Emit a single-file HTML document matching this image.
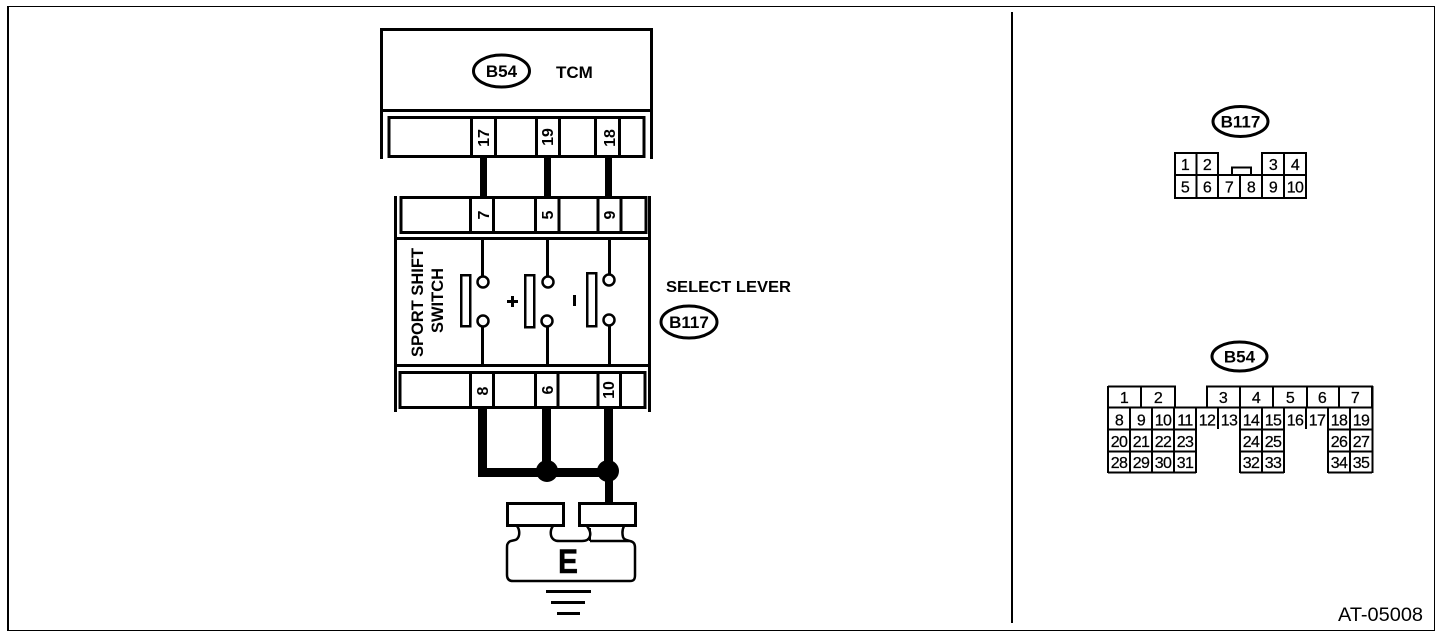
<!DOCTYPE html>
<html><head><meta charset="utf-8"><style>
html,body{margin:0;padding:0;background:#fff;width:1456px;height:636px;overflow:hidden}
svg{display:block}
text{font-family:"Liberation Sans",sans-serif;fill:#000}
.b{font-weight:bold}
.m{text-anchor:middle}
.n{font-size:16px;text-anchor:middle;stroke:#000;stroke-width:.25;letter-spacing:-.6px}
.r{font-size:16px;font-weight:bold;text-anchor:middle}
.l{fill:none;stroke:#000;stroke-width:3}
.t{fill:none;stroke:#000;stroke-width:2}
</style></head><body>
<svg width="1456" height="636" viewBox="0 0 1456 636" xmlns="http://www.w3.org/2000/svg">
<g shape-rendering="crispEdges">
<rect x="7" y="6" width="2" height="625"/><rect x="7" y="6" width="1428" height="1"/>
<rect x="1434" y="6" width="1" height="625"/><rect x="7" y="630" width="1428" height="1"/>
<rect x="1011" y="12" width="2" height="611"/>
<!-- TCM box -->
<path class="l" d="M381.500 159V29.500H651.500V159M381.500 110.500H651.500"/>
<rect class="l" x="389" y="117.500" width="255" height="39"/>
<path class="l" d="M471.500 117V157M495.500 117V157M536.500 117V157M559.500 117V157M595.500 117V157M619.500 117V157"/>
<!-- wires top -->
<rect x="480" y="158" width="7" height="39"/><rect x="544" y="158" width="7" height="39"/><rect x="605" y="158" width="7" height="39"/>
<!-- switch box -->
<path class="l" d="M395.500 196V412M649.500 196V412M395.500 238.500H649.500M395.500 365.500H649.500"/>
<rect class="l" x="401" y="197.500" width="245" height="35"/>
<path class="l" d="M470.500 197V233M493.500 197V233M535.500 197V233M559 197V233M598 197V233M621 197V233"/>
<rect class="l" x="400" y="372.500" width="245" height="35"/>
<path class="l" d="M470.500 372V408M493.500 372V408M535.500 372V408M558 372V408M598 372V408M620.500 372V408"/>
<!-- switch leads -->
<rect x="481" y="239" width="3" height="37"/><rect x="481" y="327" width="3" height="38"/>
<rect x="546" y="239" width="3" height="37"/><rect x="546" y="327" width="3" height="38"/>
<rect x="608" y="239" width="3" height="35"/><rect x="608" y="326" width="3" height="39"/>
<rect x="461" y="275" width="9" height="51" fill="none" stroke="#000" stroke-width="2.500"/>
<rect x="525" y="275" width="9" height="52" fill="none" stroke="#000" stroke-width="2.500"/>
<rect x="587" y="273" width="9" height="53" fill="none" stroke="#000" stroke-width="2.500"/>
<!-- plus/minus -->
<rect x="507" y="300" width="11" height="3"/><rect x="511" y="296" width="3" height="11"/>
<rect x="573" y="295" width="3" height="11"/>
<!-- lower wires -->
<path d="M478 408H487V468H542V408H551V468H604V408H613V503H605V477H478Z"/>
<!-- ground lines -->
<rect x="546" y="590" width="45" height="3"/><rect x="551" y="601" width="34" height="3"/><rect x="557" y="612" width="23" height="3"/>
<rect class="l" x="507.500" y="503.500" width="56" height="22"/>
<rect class="l" x="579.500" y="503.500" width="56" height="22"/>
<!-- connector B117 -->
<path class="t" d="M1175 153H1218V175H1175ZM1196.500 153V175M1262 175V153H1306V175M1284 153V175M1175 175H1306V198H1175ZM1196.500 175V198M1218 175V198M1240 175V198M1262 175V198M1284 175V198M1232 175V167.500H1251V175"/>
<!-- connector B54 -->
<path class="t" d="M1108 386.500H1175V407M1141 386.500V407M1207 407V386.500H1372V407M1240 386.500V407M1273 386.500V407M1307 386.500V407M1339 386.500V407"/>
<path class="t" d="M1108 386V473M1108 407.500H1372.500M1372.500 386V473M1130 407V473M1152 407V473M1174 407V473M1196 407V473M1218 407V429M1240 407V473M1262 407V473M1284 407V473M1306 407V429M1328 407V473M1350 407V473M1108 429.500H1196M1240 429.500H1284M1328 429.500H1372M1108 451.500H1196M1240 451.500H1284M1328 451.500H1372M1108 472.500H1196M1240 472.500H1284M1328 472.500H1372"/>
</g>
<!-- circles -->
<g fill="#fff" stroke="#000" stroke-width="2.500">
<circle cx="483" cy="282" r="5.500"/><circle cx="483" cy="321" r="5.500"/>
<circle cx="548" cy="282" r="5.500"/><circle cx="547" cy="321" r="5.500"/>
<circle cx="609" cy="280" r="5.500"/><circle cx="609" cy="320" r="5.500"/>
</g>
<circle cx="547" cy="471" r="11"/><circle cx="608" cy="471" r="11"/>
<!-- ground body -->
<path fill="none" stroke="#000" stroke-width="2.500" d="M517 526C520 530 520 536 517 539C515 541 511 540 509 542C507 544 507 545 507 548V575C507 579 509 581 513 581H630C634 581 635 579 635 575V548C635 544 634 542 630 541C627 540 624 540 623 537C622 533 622 530 624 526M553 526C550 530 550 536 553 539C555 541 557 541 560 541H582C586 541 589 540 590 536C591 532 589 529 587 526M590 541H630"/>
<path fill="none" stroke="#000" stroke-width="2" d="M590 528V541"/>
<!-- ellipses -->
<g fill="#fff" stroke="#000" stroke-width="3">
<ellipse cx="501.500" cy="71" rx="28" ry="16"/>
<ellipse cx="689" cy="322" rx="28" ry="16"/>
<ellipse cx="1240.500" cy="121.500" rx="27.500" ry="15"/>
<ellipse cx="1239.500" cy="356.500" rx="27.500" ry="14.500"/>
</g>
<!-- labels -->
<text class="b m" x="501.500" y="77" font-size="17">B54</text>
<text class="b" x="556" y="78" font-size="17">TCM</text>
<text class="b" x="666" y="292" font-size="16" textLength="125" lengthAdjust="spacingAndGlyphs">SELECT LEVER</text>
<text class="b m" x="689" y="328" font-size="17">B117</text>
<text class="b m" x="1240.500" y="127.500" font-size="17">B117</text>
<text class="b m" x="1239.500" y="362.500" font-size="17">B54</text>
<text class="b m" transform="translate(423,302.500) rotate(-90)" font-size="16.500">SPORT SHIFT</text>
<text class="b m" transform="translate(443,300.500) rotate(-90)" font-size="16.500">SWITCH</text>
<text class="r" transform="translate(489,138) rotate(-90)">17</text>
<text class="r" transform="translate(553,137) rotate(-90)">19</text>
<text class="r" transform="translate(615,138) rotate(-90)">18</text>
<text class="r" transform="translate(489,215) rotate(-90)">7</text>
<text class="r" transform="translate(553,215) rotate(-90)">5</text>
<text class="r" transform="translate(615,215) rotate(-90)">9</text>
<text class="r" transform="translate(488,391) rotate(-90)">8</text>
<text class="r" transform="translate(553,390) rotate(-90)">6</text>
<text class="r" transform="translate(614,390) rotate(-90)">10</text>
<text class="b m" x="568" y="573" font-size="34" stroke="#000" stroke-width=".5" textLength="20" lengthAdjust="spacingAndGlyphs">E</text>
<text x="1338" y="621" font-size="19" textLength="85" lengthAdjust="spacingAndGlyphs">AT-05008</text>
<!-- B117 pins -->
<text class="n" x="1185" y="170">1</text><text class="n" x="1207" y="170">2</text><text class="n" x="1273" y="170">3</text><text class="n" x="1295" y="170">4</text>
<text class="n" x="1185" y="192.500">5</text><text class="n" x="1207" y="192.500">6</text><text class="n" x="1229" y="192.500">7</text><text class="n" x="1251" y="192.500">8</text><text class="n" x="1273" y="192.500">9</text><text class="n" x="1295" y="192.500">10</text>
<!-- B54 pins -->
<text class="n" x="1124" y="403">1</text><text class="n" x="1158" y="403">2</text><text class="n" x="1223" y="403">3</text><text class="n" x="1256" y="403">4</text><text class="n" x="1290" y="403">5</text><text class="n" x="1322" y="403">6</text><text class="n" x="1355" y="403">7</text>
<text class="n" x="1119" y="425.500">8</text><text class="n" x="1141" y="425.500">9</text><text class="n" x="1163" y="425.500">10</text><text class="n" x="1185" y="425.500">11</text><text class="n" x="1207" y="425.500">12</text><text class="n" x="1229" y="425.500">13</text><text class="n" x="1251" y="425.500">14</text><text class="n" x="1273" y="425.500">15</text><text class="n" x="1295" y="425.500">16</text><text class="n" x="1317" y="425.500">17</text><text class="n" x="1339" y="425.500">18</text><text class="n" x="1361" y="425.500">19</text>
<text class="n" x="1119" y="447">20</text><text class="n" x="1141" y="447">21</text><text class="n" x="1163" y="447">22</text><text class="n" x="1185" y="447">23</text><text class="n" x="1251" y="447">24</text><text class="n" x="1273" y="447">25</text><text class="n" x="1339" y="447">26</text><text class="n" x="1361" y="447">27</text>
<text class="n" x="1119" y="468">28</text><text class="n" x="1141" y="468">29</text><text class="n" x="1163" y="468">30</text><text class="n" x="1185" y="468">31</text><text class="n" x="1251" y="468">32</text><text class="n" x="1273" y="468">33</text><text class="n" x="1339" y="468">34</text><text class="n" x="1361" y="468">35</text>
</svg>
</body></html>
